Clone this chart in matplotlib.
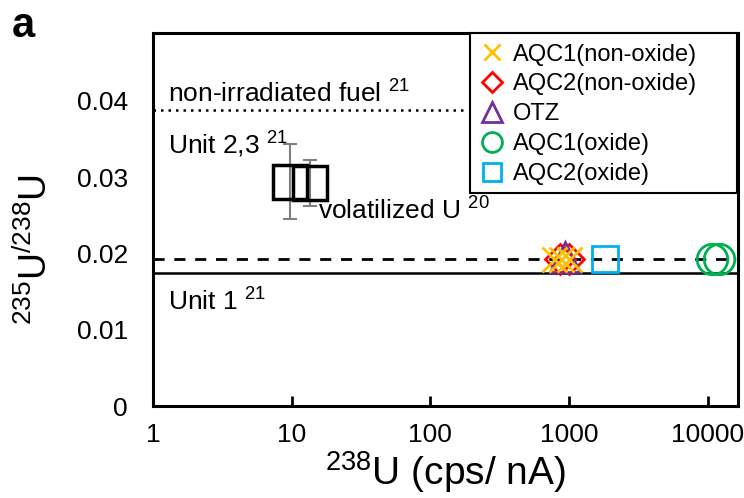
import matplotlib
matplotlib.use('Agg')
import matplotlib.pyplot as plt
import matplotlib.patches as mpatches
import numpy as np

plt.rcParams['font.family'] = ['Liberation Sans', 'DejaVu Sans']
plt.rcParams['mathtext.default'] = 'regular'

# data
unit23_x = [9.7, 13.5]
unit23_y = [0.0294, 0.0292]
unit23_err = [0.0049, 0.0030]

aqc1_non_x = [780, 880, 1000]
aqc1_non_y = [0.0193, 0.0193, 0.0193]
aqc2_non_x = [860, 1000]
aqc2_non_y = [0.0193, 0.0193]
otz_x = [930]
otz_y = [0.0195]
aqc1_ox_x = [10800, 12000]
aqc1_ox_y = [0.0193, 0.0193]
aqc2_ox_x = [1800]
aqc2_ox_y = [0.0193]

natural_fuel = 0.0388
volatilized_u = 0.0193
unit1 = 0.01745

fig = plt.figure(figsize=(7.44, 4.98), dpi=100)
ax = fig.add_axes([153/744, 1-406/498, (738-153)/744, (406-33)/498])
ax.set_xscale('log')
ax.set_xlim(1, 16500)
ax.set_ylim(0, 0.0489)

ax.plot([1, 178], [natural_fuel]*2, ls=(0, (1, 2)), color='black', lw=1.8)
ax.axhline(volatilized_u, ls=(0, (4, 3.5)), color='black', lw=2)
ax.axhline(unit1, ls='-', color='black', lw=1.8)

ax.errorbar(unit23_x, unit23_y, yerr=unit23_err, fmt='none', ecolor='#7f7f7f',
            elinewidth=1.5, capsize=5, capthick=1.5, zorder=2)
ax.plot(unit23_x, unit23_y, 's', ms=24, mfc='none', mec='black', mew=2.5, zorder=3)

ax.plot(aqc1_non_x, aqc1_non_y, 'x', ms=18, mec='#ffc000', mew=2, ls='none',
        label='AQC1(non-oxide)', zorder=5)
ax.plot(aqc2_non_x, aqc2_non_y, 'D', ms=15, mfc='none', mec='#ff0000', mew=2, ls='none',
        label='AQC2(non-oxide)', zorder=4)
ax.plot(otz_x, otz_y, '^', ms=22, mfc='none', mec='#7030a0', mew=2, ls='none',
        label='OTZ', zorder=4)
ax.plot(aqc1_ox_x, aqc1_ox_y, 'o', ms=22, mfc='none', mec='#00b050', mew=2, ls='none',
        label='AQC1(oxide)', zorder=4)
ax.plot(aqc2_ox_x, aqc2_ox_y, 's', ms=19, mfc='none', mec='#00b0f0', mew=2, ls='none',
        label='AQC2(oxide)', zorder=4)

fs = 19
ax.text(1.28, 0.0398, 'non-irradiated fuel $^{21}$', fontsize=fs)
ax.text(1.28, 0.0330, 'Unit 2,3 $^{21}$', fontsize=fs)
ax.text(15.5, 0.0245, 'volatilized U $^{20}$', fontsize=fs)
ax.text(1.28, 0.0125, 'Unit 1 $^{21}$', fontsize=fs)

ax.set_yticks([0, 0.01, 0.02, 0.03, 0.04])
ax.set_yticklabels(['0', '0.01', '0.02', '0.03', '0.04'])
ax.set_xticks([1, 10, 100, 1000, 10000])
ax.set_xticklabels(['1', '10', '100', '1000', '10000'])
ax.minorticks_off()
ax.tick_params(axis='y', length=0, labelsize=19, pad=18)
ax.tick_params(axis='x', direction='in', length=7, width=2, labelsize=19, pad=12)
for s in ax.spines.values():
    s.set_linewidth(2.2)

ax.set_xlabel('$^{238}$U (cps/ nA)', fontsize=28, labelpad=2)
ax.set_ylabel('$^{235}$U$^{/238}$U', fontsize=27, labelpad=16, y=0.42)

# legend box (Excel style, wider than its contents)
box = mpatches.Rectangle((470/744, 1-193/498), 267/744, 160/498, transform=fig.transFigure,
                         facecolor='white', edgecolor='black', lw=1.5, zorder=4.5, clip_on=False)
ax.add_patch(box)
leg = ax.legend(loc='upper left', bbox_to_anchor=(470/744, 1-33/498), bbox_transform=fig.transFigure,
                fontsize=17, frameon=False, handletextpad=0.38, labelspacing=0.33,
                borderaxespad=0, borderpad=0.45, handlelength=1.0, markerscale=0.65)
leg.set_zorder(6)

fig.text(12/744, 1-37/498, 'a', fontsize=30, fontweight='bold')

fig.savefig('out.png', dpi=100)
